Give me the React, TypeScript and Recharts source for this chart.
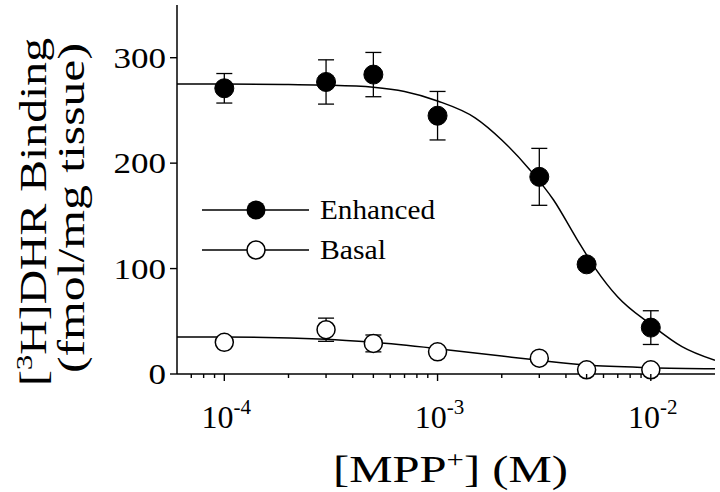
import React from "react";
import {
  ComposedChart,
  Line,
  Scatter,
  ErrorBar,
  XAxis,
  YAxis,
  Legend,
} from "recharts";

const FONT = '"Liberation Serif", "Times New Roman", serif';

// measured points (M, fmol/mg tissue, error)
const enhancedPoints = [
  { x: 1e-4, y: 271, err: 14 },
  { x: 3e-4, y: 277, err: 21 },
  { x: 5e-4, y: 284, err: 21 },
  { x: 1e-3, y: 245, err: 23 },
  { x: 3e-3, y: 187, err: 27 },
  { x: 5e-3, y: 104, err: 5 },
  { x: 1e-2, y: 44, err: 16 },
];

const basalPoints = [
  { x: 1e-4, y: 30, err: 4 },
  { x: 3e-4, y: 42, err: 11 },
  { x: 5e-4, y: 29, err: 8 },
  { x: 1e-3, y: 21, err: 4 },
  { x: 3e-3, y: 15, err: 3 },
  { x: 5e-3, y: 4, err: 2 },
  { x: 1e-2, y: 4, err: 2 },
];

// fitted curves
const enhancedCurveX = [6e-5, 1e-4, 2e-4, 3e-4, 5e-4, 7e-4, 1e-3, 1.5e-3, 2e-3, 2.7e-3, 3.5e-3, 4.5e-3, 5.5e-3, 7e-3, 1e-2, 1.4e-2, 2e-2];
const enhancedCurveY = [275, 275, 274.5, 274, 272, 268, 259, 243, 222, 194, 165, 128, 100, 73, 47, 26, 13];

const basalCurveX = [6e-5, 1e-4, 3e-4, 5e-4, 1e-3, 2e-3, 3e-3, 5e-3, 1e-2, 2e-2];
const basalCurveY = [35, 35, 33, 30, 24, 17, 13, 8.5, 6, 5];

const enhancedCurve = enhancedCurveX.map((x, i) => ({ x, y: enhancedCurveY[i] }));
const basalCurve = basalCurveX.map((x, i) => ({ x, y: basalCurveY[i] }));

const xMajorTicks = [1e-4, 1e-3, 1e-2];
const xMajorLabels = ["-4", "-3", "-2"];
const xMinorTicks = [
  7e-5, 8e-5, 9e-5,
  2e-4, 3e-4, 4e-4, 5e-4, 6e-4, 7e-4, 8e-4, 9e-4,
  2e-3, 3e-3, 4e-3, 5e-3, 6e-3, 7e-3, 8e-3, 9e-3,
];
const xTicks = [...xMinorTicks, ...xMajorTicks].sort((a, b) => a - b);
const yTicks = [0, 100, 200, 300];

const XTick = (props: any) => {
  const { x, y, payload } = props;
  const idx = xMajorTicks.indexOf(payload.value);
  const major = idx >= 0;
  return (
    <g>
      <line x1={x} x2={x} y1={y} y2={y + (major ? 7 : 4)} stroke="#000" strokeWidth={1.4} />
      {major && (
        <text x={x + 2} y={y + 54} textAnchor="middle" fontFamily={FONT} fontSize={32} fill="#000">
          <tspan>10</tspan>
          <tspan dy={-14} fontSize={21}>{xMajorLabels[idx]}</tspan>
        </text>
      )}
    </g>
  );
};

const YTick = (props: any) => {
  const { x, y, payload } = props;
  const label = String(payload.value);
  return (
    <text
      x={x}
      y={y + 10}
      textAnchor="end"
      fontFamily={FONT}
      fontSize={30}
      fill="#000"
      textLength={label.length * 17.5}
      lengthAdjust="spacingAndGlyphs"
    >
      {label}
    </text>
  );
};

const XTitle = () => (
  <text
    x={333}
    y={482}
    fontFamily={FONT}
    fontSize={38}
    fill="#000"
    textLength={235}
    lengthAdjust="spacingAndGlyphs"
  >
    <tspan>[MPP</tspan>
    <tspan dy={-15} fontSize={24}>+</tspan>
    <tspan dy={15}>] (M)</tspan>
  </text>
);

const YTitle = () => (
  <g fontFamily={FONT} fontSize={37} fill="#000">
    <text
      transform="translate(46, 386) rotate(-90)"
      textLength={348}
      lengthAdjust="spacingAndGlyphs"
    >
      <tspan>[</tspan>
      <tspan dy={-14} fontSize={24}>3</tspan>
      <tspan dy={14}>H]DHR Binding</tspan>
    </text>
    <text
      transform="translate(84, 373) rotate(-90)"
      textLength={330}
      lengthAdjust="spacingAndGlyphs"
    >
      (fmol/mg tissue)
    </text>
  </g>
);

const FilledDot = (props: any) => (
  <circle cx={props.cx} cy={props.cy} r={9.5} fill="#000" stroke="#000" strokeWidth={1} />
);
const OpenDot = (props: any) => (
  <circle cx={props.cx} cy={props.cy} r={9} fill="#fff" stroke="#000" strokeWidth={1.5} />
);

const LegendBox = () => (
  <svg width={300} height={75}>
    <g fontFamily={FONT} fontSize={27} fill="#000">
      <line x1={7} x2={114} y1={15} y2={15} stroke="#000" strokeWidth={1.5} />
      <circle cx={61} cy={15} r={9.5} fill="#000" />
      <text x={125} y={24} textLength={115} lengthAdjust="spacingAndGlyphs">Enhanced</text>
      <line x1={7} x2={114} y1={55} y2={55} stroke="#000" strokeWidth={1.5} />
      <circle cx={61} cy={55} r={9} fill="#fff" stroke="#000" strokeWidth={1.5} />
      <text x={125} y={64} textLength={66} lengthAdjust="spacingAndGlyphs">Basal</text>
    </g>
  </svg>
);

export default function App() {
  return (
    <div style={{ position: "absolute", left: 0, top: 0, background: "#fff" }}>
      <ComposedChart width={720} height={492} margin={{ top: 5, right: 5, bottom: 0, left: 0 }}>
        <XAxis
          dataKey="x"
          type="number"
          scale="log"
          domain={[6e-5, 2e-2]}
          allowDataOverflow
          ticks={xTicks}
          interval={0}
          tick={<XTick />}
          tickLine={false}
          tickSize={0}
          tickMargin={0}
          height={118}
          axisLine={{ stroke: "#000", strokeWidth: 1.5 }}
          label={<XTitle />}
        />
        <YAxis
          type="number"
          domain={[0, 350]}
          ticks={yTicks}
          interval={0}
          width={177}
          tickSize={7}
          tickMargin={4}
          tickLine={{ stroke: "#000", strokeWidth: 1.4 }}
          axisLine={{ stroke: "#000", strokeWidth: 1.5 }}
          tick={<YTick />}
          label={<YTitle />}
        />
        <Legend
          layout="vertical"
          align="center"
          verticalAlign="middle"
          content={() => <LegendBox />}
          wrapperStyle={{ left: 195, top: 195, width: 300, height: 75 }}
        />
        <Line
          data={enhancedCurve}
          dataKey="y"
          type="monotone"
          stroke="#000"
          strokeWidth={1.5}
          dot={false}
          activeDot={false}
          legendType="none"
          isAnimationActive={false}
        />
        <Line
          data={basalCurve}
          dataKey="y"
          type="monotone"
          stroke="#000"
          strokeWidth={1.5}
          dot={false}
          activeDot={false}
          legendType="none"
          isAnimationActive={false}
        />
        <Scatter data={basalPoints} dataKey="y" shape={<OpenDot />} name="Basal" isAnimationActive={false}>
          <ErrorBar dataKey="err" direction="y" width={8} stroke="#000" strokeWidth={1.3} />
        </Scatter>
        <Scatter data={enhancedPoints} dataKey="y" shape={<FilledDot />} name="Enhanced" isAnimationActive={false}>
          <ErrorBar dataKey="err" direction="y" width={8} stroke="#000" strokeWidth={1.3} />
        </Scatter>
      </ComposedChart>
    </div>
  );
}
